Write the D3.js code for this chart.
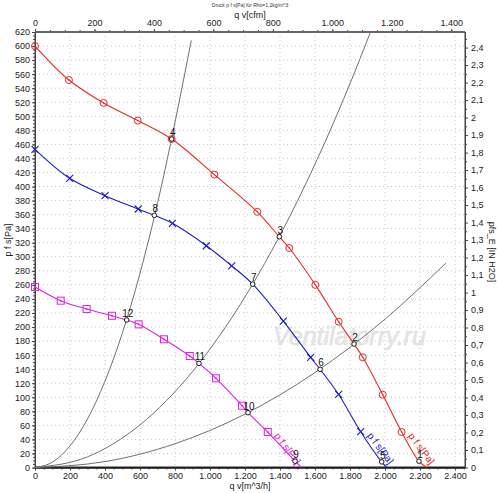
<!DOCTYPE html>
<html><head><meta charset="utf-8">
<script src="https://cdn.jsdelivr.net/npm/d3@7"></script>
<style>body{margin:0;background:#fff;font-family:"Liberation Sans",Arial,sans-serif}</style>
</head><body><svg id="c" width="500" height="493"></svg>
<script>
// ---- data ----
const redQ = [0,194,392,587,781,1025,1270,1396,1453,1602,1735,1823,1873,1987,2095,2194,2238];
const redP = [600,551.6,519,494,467.6,417,364,328.5,312.5,260,207.5,175.8,156.9,103.6,50.5,9,0];
const redMarkQ = [0,194,392,587,781,1025,1270,1453,1602,1735,1873,1987,2095];
const redMarkP = [600,551.6,519,494,467.6,417,364,312.5,260,207.5,156.9,103.6,50.5];

const blueQ = [0,198,400,590,682,785,979,1124,1244,1419,1575,1629,1735,1861,1981,2009];
const blueP = [453,411.7,387,368,359,347.6,315.7,287,261,208.5,156.9,139.8,104,51,8,0];
const blueMarkQ = [0,198,400,590,785,979,1124,1419,1575,1735,1861];
const blueMarkP = [453,411.7,387,368,347.6,315.7,287,208.5,156.9,104,51];

const magQ = [0,147,295,440,524,592,737,884,937,1034,1183,1217,1330,1486,1523];
const magP = [257,237.5,225.6,216,210,203.8,182.5,158.7,148.3,127,88,78,50.5,9,0];
const magMarkQ = [0,147,295,440,592,737,884,1034,1183,1330];
const magMarkP = [257,237.5,225.6,216,203.8,182.5,158.7,127,88,50.5];

const sysAQ = [0,100,200,300,400,500,600,700,800,893];
const sysAP = [0,7.7,30.7,69,123,192,276.5,376,491.5,608];
const sysBQ = [0,300,600,900,1200,1500,1800,1915];
const sysBP = [0,15.2,60.7,136.6,242.9,379.6,546.6,618.6];
const sysCQ = [0,400,800,1200,1600,2000,2347];
const sysCP = [0,8.4,33.8,76,135.2,211.2,290.8];

const opNum = ["1","2","3","4","5","6","7","8","9","10","11","12"];
const opQ = [2194,1823,1396,781,1981,1629,1244,682,1486,1217,937,524];
const opP = [9,175.8,328.5,467.6,8,139.8,261,359,9,78,148.3,210];

const xTicks = [0,200,400,600,800,1000,1200,1400,1600,1800,2000,2200,2400];
const cfmTicks = [0,200,400,600,800,1000,1200,1400];
const yTicks = d3.range(0,621,20);
const inTicks = d3.range(0,25).map(d=>d/10);

const title = "Druck p f s[Pa] für Rho=1,2kg/m^3";
const curveLabel = "p f s[Pa]";

// ---- scales ----
const L=35,R=465,T=32,B=467.5;
const x = d3.scaleLinear().domain([0,2457]).range([L,R]);
const y = d3.scaleLinear().domain([0,620]).range([B,T]);
const xc = d3.scaleLinear().domain([0,2457/1.699]).range([L,R]);
const yi = d3.scaleLinear().domain([0,620/249.089]).range([B,T]);

const svg = d3.select("#c");
const thous = d => d3.format(",")(d).replace(/,/g,".");
const comma = d => (Math.round(d*10)/10).toString().replace(".",",");

// grid
const g = svg.append("g");
g.selectAll(".gv").data(d3.range(200,2457,200)).join("line")
 .attr("x1",d=>x(d)).attr("x2",d=>x(d)).attr("y1",T).attr("y2",B)
 .attr("stroke","#c8c8c8").attr("stroke-dasharray","1,3");
g.selectAll(".gh").data(d3.range(20,621,20)).join("line")
 .attr("x1",L).attr("x2",R).attr("y1",d=>y(d)).attr("y2",d=>y(d))
 .attr("stroke","#c8c8c8").attr("stroke-dasharray","1,3");

// axes
function styleAxis(sel){ sel.selectAll("text").attr("font-size","9px").attr("fill","#222").attr("font-family","Liberation Sans, Arial"); sel.selectAll("line,path").attr("stroke","#444"); }
const minor = (ax)=>ax.tickFormat("").tickSizeOuter(0);
svg.append("g").attr("transform",`translate(0,${B})`).call(minor(d3.axisBottom(x).tickValues(d3.range(0,2457,50)).tickSize(2))).call(styleAxis);
svg.append("g").attr("transform",`translate(0,${B})`).call(d3.axisBottom(x).tickValues(xTicks).tickFormat(thous).tickSize(3).tickSizeOuter(0)).call(styleAxis).call(s=>s.selectAll("text").attr("dy","0.6em"));
svg.append("g").attr("transform",`translate(0,${T})`).call(minor(d3.axisTop(xc).tickValues(d3.range(0,1440,50)).tickSize(2))).call(styleAxis);
svg.append("g").attr("transform",`translate(0,${T})`).call(d3.axisTop(xc).tickValues(cfmTicks).tickFormat(thous).tickSize(3).tickSizeOuter(0)).call(styleAxis);
svg.append("g").attr("transform",`translate(${L},0)`).call(minor(d3.axisLeft(y).tickValues(d3.range(0,621,5)).tickSize(2))).call(styleAxis);
svg.append("g").attr("transform",`translate(${L},0)`).call(d3.axisLeft(y).tickValues(yTicks).tickSize(3).tickSizeOuter(0)).call(styleAxis).call(s=>s.selectAll("text").attr("dx","0.1em"));
svg.append("g").attr("transform",`translate(${R},0)`).call(minor(d3.axisRight(yi).tickValues(d3.range(0,25).map(d=>d/10+0.05).filter(d=>d<2.48)).tickSize(2))).call(styleAxis);
svg.append("g").attr("transform",`translate(${R},0)`).call(d3.axisRight(yi).tickValues(inTicks).tickFormat(comma).tickSize(3).tickSizeOuter(0)).call(styleAxis);

// frame
svg.append("line").attr("x1",L).attr("x2",R).attr("y1",T).attr("y2",T).attr("stroke","#666").attr("stroke-width",2);
svg.append("line").attr("x1",L).attr("x2",R).attr("y1",B).attr("y2",B).attr("stroke","#222").attr("stroke-width",2);
svg.append("line").attr("x1",L).attr("x2",L).attr("y1",T).attr("y2",B).attr("stroke","#444");
svg.append("line").attr("x1",R).attr("x2",R).attr("y1",T).attr("y2",B).attr("stroke","#444");

// watermark
svg.append("text").attr("x",x(1360)).attr("y",y(175)).attr("font-size","25px").attr("font-style","italic")
 .attr("font-family","Liberation Sans, Arial").attr("fill","#e6e6e6").attr("stroke","#dcdcdc").attr("stroke-width",0.5).text("Ventilatorry.ru");

// titles
svg.append("text").attr("x",250).attr("y",7).attr("text-anchor","middle").attr("font-size","5px").attr("fill","#333").text(title);
svg.append("text").attr("x",250).attr("y",18).attr("text-anchor","middle").attr("font-size","9px").attr("fill","#222").text("q v[cfm]");
svg.append("text").attr("x",250).attr("y",489).attr("text-anchor","middle").attr("font-size","9px").attr("fill","#222").text("q v[m^3/h]");
svg.append("text").attr("transform","translate(11,240) rotate(-90)").attr("text-anchor","middle").attr("font-size","9px").attr("fill","#222").text("p f s[Pa]");
svg.append("text").attr("transform","translate(489,252) rotate(90)").attr("text-anchor","middle").attr("font-size","9px").attr("fill","#222").text("pfs_E [IN H2O]");

// system curves
const line = d3.line().x(d=>x(d[0])).y(d=>y(d[1])).curve(d3.curveMonotoneX);
[[sysAQ,sysAP],[sysBQ,sysBP],[sysCQ,sysCP]].forEach(([q,p])=>{
  svg.append("path").attr("d",line(q.map((v,i)=>[v,p[i]]))).attr("fill","none").attr("stroke","#707070").attr("stroke-width",1);
});

// fan curves
const series = [
 {q:redQ,p:redP,mq:redMarkQ,mp:redMarkP,c:"#e42a2a",m:"circle"},
 {q:blueQ,p:blueP,mq:blueMarkQ,mp:blueMarkP,c:"#1c1cc4",m:"x"},
 {q:magQ,p:magP,mq:magMarkQ,mp:magMarkP,c:"#e020e0",m:"square"}
];
const lineC = d3.line().x(d=>x(d[0])).y(d=>y(d[1])).curve(d3.curveCatmullRom);
series.forEach(s=>{
  svg.append("path").attr("d",lineC(s.q.map((v,i)=>[v,s.p[i]]))).attr("fill","none").attr("stroke",s.c).attr("stroke-width",1.1);
  const mg = svg.append("g");
  s.mq.forEach((v,i)=>{
    const cx=x(v), cy=y(s.mp[i]);
    if(s.m==="circle"){
      mg.append("circle").attr("cx",cx).attr("cy",cy).attr("r",3.5).attr("fill","none").attr("stroke",s.c);
      mg.append("circle").attr("cx",cx).attr("cy",cy).attr("r",0.7).attr("fill",s.c);
    } else if(s.m==="x"){
      mg.append("path").attr("d",`M${cx-3.5},${cy-3.5}L${cx+3.5},${cy+3.5}M${cx-3.5},${cy+3.5}L${cx+3.5},${cy-3.5}`).attr("stroke",s.c).attr("stroke-width",1.1);
    } else {
      mg.append("rect").attr("x",cx-3.5).attr("y",cy-3.5).attr("width",7).attr("height",7).attr("fill","none").attr("stroke",s.c);
      mg.append("rect").attr("x",cx-0.8).attr("y",cy-0.8).attr("width",1.6).attr("height",1.6).attr("fill",s.c);
    }
  });
  // label along curve end
  const n=s.q.length, q0=s.q[n-3], p0=s.p[n-3];
  svg.append("text").attr("transform",`translate(${x(q0)+6},${y(p0)+4}) rotate(53)`)
   .attr("font-size","10px").attr("fill",s.c).text(curveLabel);
});

// operating points
opNum.forEach((n,i)=>{
  const cx=x(opQ[i]), cy=y(opP[i]);
  svg.append("circle").attr("cx",cx).attr("cy",cy).attr("r",2.3).attr("fill","#fff").attr("stroke","#000").attr("stroke-width",0.9);
  svg.append("text").attr("x",cx+1).attr("y",cy-3).attr("text-anchor","middle").attr("font-size","10px").attr("fill","#111").text(n);
});
</script></body></html>
